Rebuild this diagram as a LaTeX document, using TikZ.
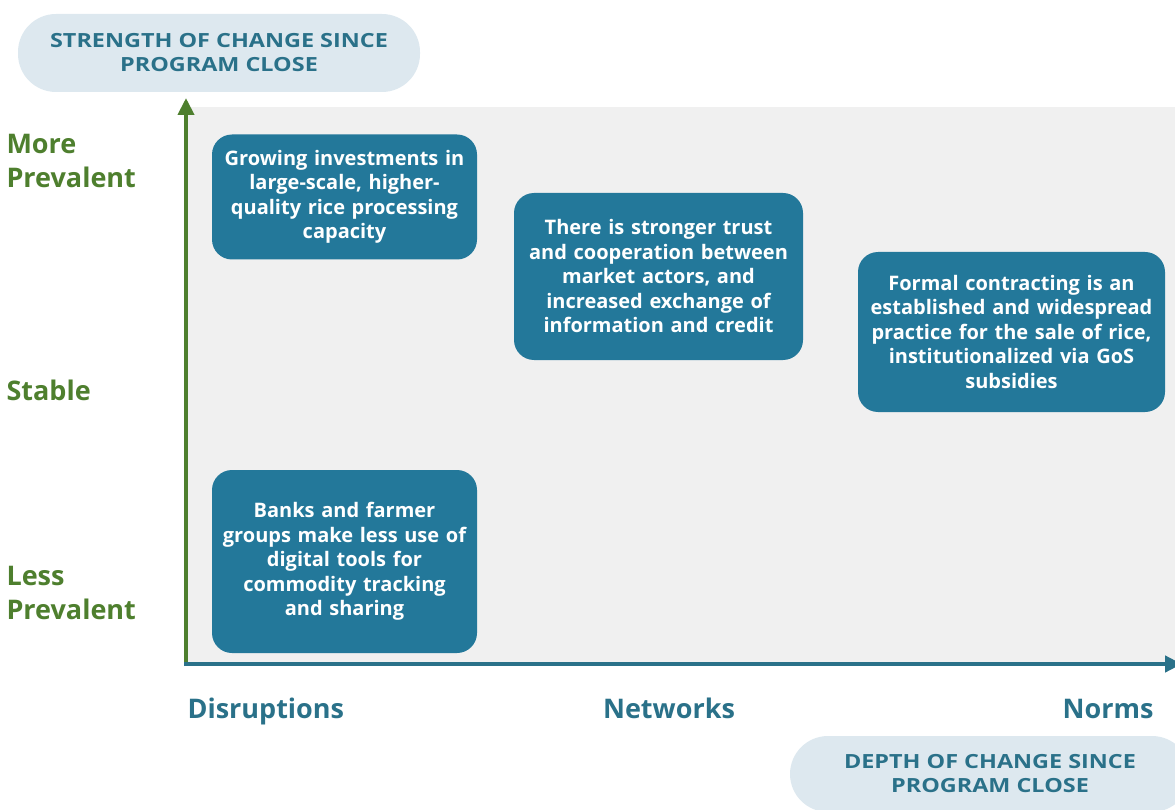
\documentclass[tikz,border=0pt]{standalone}
\usepackage{fontspec}
\setmainfont{Open Sans}
\newfontfamily\widesans[FakeStretch=1.2]{Open Sans}
\usetikzlibrary{arrows.meta}
\definecolor{boxteal}{HTML}{23789A}
\definecolor{axteal}{HTML}{2A7189}
\definecolor{axgreen}{HTML}{4E7F2E}
\definecolor{pill}{HTML}{DDE8EF}
\definecolor{panel}{HTML}{F0F0F0}
\begin{document}
\begin{tikzpicture}[x=1pt,y=-1pt,>={Triangle[length=17pt,width=16pt]},
  change/.style={fill=boxteal,rounded corners=20pt,text=white,align=center,font=\bfseries\fontsize{20}{24.5}\selectfont,inner sep=2pt},
  level/.style={text=axgreen,font=\bfseries\fontsize{27}{34}\selectfont,align=left,anchor=west},
  kind/.style={text=axteal,font=\bfseries\fontsize{27}{30}\selectfont},
  tag/.style={fill=pill,rounded corners=38pt,text=axteal,align=center,font=\widesans\bfseries\fontsize{19.5}{24}\selectfont}]
\useasboundingbox (0,0) rectangle (1175,810);
\fill[panel] (186,107) rectangle (1175,664);
% labels on the axes
\node[tag,minimum width=402pt,minimum height=78pt] (strength) at (219,53) {STRENGTH OF CHANGE SINCE\\PROGRAM CLOSE};
\node[tag,minimum width=400pt,minimum height=76pt] (depth) at (990,774) {DEPTH OF CHANGE SINCE\\PROGRAM CLOSE};
\coordinate (origin) at (186,664);
\coordinate (ytop) at (186,98);
\coordinate (xend) at (1182,664);
\draw[->,axgreen,line width=4pt] (186,666)--(ytop);
\draw[->,axteal,line width=4.5pt] (184,664)--(xend);
\node[level] (more) at (3,161) {More\\Prevalent};
\node[level] (stable) at (3,390) {Stable};
\node[level] (less) at (3,593) {Less\\Prevalent};
\node[kind,anchor=base west] (disr) at (184,718) {Disruptions};
\node[kind,anchor=base] (netw) at (669,718) {Networks};
\node[kind,anchor=base east] (norms) at (1157,718) {Norms};
% outcomes
\node[change,minimum width=265pt,minimum height=125pt,text width=261pt] (invest) at (344.5,197) {Growing investments in\\large-scale, higher-\\quality rice processing\\capacity};
\node[change,minimum width=289pt,minimum height=167pt,text width=285pt] (trust) at (658.5,276.5) {There is stronger trust\\and cooperation between\\market actors, and\\increased exchange of\\information and credit};
\node[change,minimum width=307pt,minimum height=160pt,text width=303pt] (contract) at (1011.5,332) {Formal contracting is an\\established and widespread\\practice for the sale of rice,\\institutionalized via GoS\\subsidies};
\node[change,minimum width=265pt,minimum height=183pt,text width=261pt] (digital) at (344.5,561.5) {Banks and farmer\\groups make less use of\\digital tools for\\commodity tracking\\and sharing};
\end{tikzpicture}
\end{document}
